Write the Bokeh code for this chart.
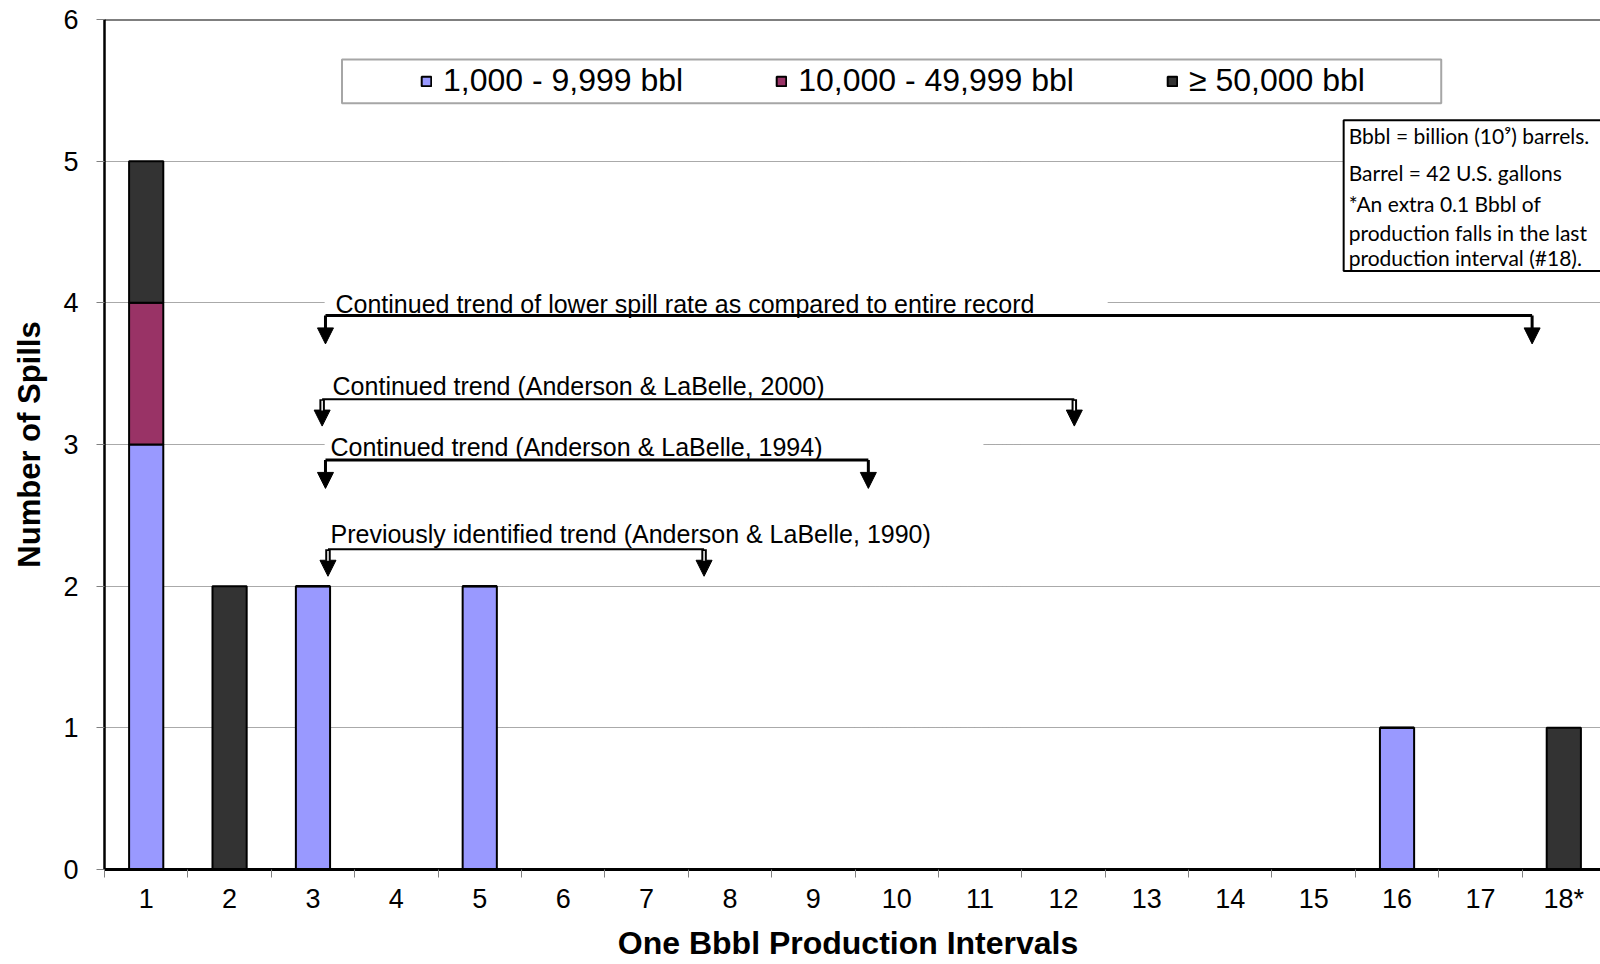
import numpy as np
from bokeh.plotting import figure
from bokeh.models import (ColumnDataSource, FixedTicker, Range1d, Span, Legend,
                          LegendItem, Arrow, NormalHead)
from bokeh.core.properties import value
from bokeh.embed import file_html
from bokeh.resources import INLINE

# ---------------- data ----------------
categories = ["1", "2", "3", "4", "5", "6", "7", "8", "9", "10", "11", "12",
              "13", "14", "15", "16", "17", "18*"]
small_spills = [3, 0, 2, 0, 2, 0, 0, 0, 0, 0, 0, 0, 0, 0, 0, 1, 0, 0]
medium_spills = [1, 0, 0, 0, 0, 0, 0, 0, 0, 0, 0, 0, 0, 0, 0, 0, 0, 0]
large_spills = [1, 2, 0, 0, 0, 0, 0, 0, 0, 0, 0, 0, 0, 0, 0, 0, 0, 1]
series_keys = ["small", "medium", "large"]
series_labels = ["1,000 - 9,999 bbl", "10,000 - 49,999 bbl", "\u2265 50,000 bbl"]
series_colors = ["#9999FF", "#993366", "#333333"]

trend_labels = [
    "Continued trend of lower spill rate as compared to entire record",
    "Continued trend (Anderson & LaBelle, 2000)",
    "Continued trend (Anderson & LaBelle, 1994)",
    "Previously identified trend (Anderson & LaBelle, 1990)",
]
trend_start = [3.15, 3.11, 3.15, 3.18]
trend_end = [17.62, 12.13, 9.66, 7.69]
trend_level = [3.91, 3.32, 2.89, 2.26]
trend_tip = [3.71, 3.13, 2.69, 2.07]
trend_text_x = [3.27, 3.235, 3.21, 3.21]
trend_text_y = [3.99, 3.41, 2.98, 2.37]
trend_box_right = [12.53, 11.0, 11.04, 11.5]
trend_hollow = [False, True, False, True]

note_lines = [
    "Bbbl = billion (10\u2079) barrels.",
    "Barrel = 42 U.S. gallons",
    "*An extra 0.1 Bbbl of",
    "production falls in the last",
    "production interval (#18).",
]
note_y = [5.18, 4.92, 4.70, 4.50, 4.32]

x_title = "One Bbbl  Production Intervals"
y_title = "Number of Spills"

x_pos = [i + 1 for i in range(len(categories))]

FONT = "Liberation Sans"

source = ColumnDataSource(dict(x=x_pos, small=small_spills,
                               medium=medium_spills, large=large_spills))

p = figure(width=1600, height=964,
           x_range=Range1d(0.5, 18.44), y_range=Range1d(0, 6),
           output_backend="svg", toolbar_location=None,
           min_border_left=104, min_border_right=0,
           min_border_top=19, min_border_bottom=95)
p.outline_line_color = None
p.background_fill_color = "white"
p.border_fill_color = "white"

# grid
p.xgrid.visible = False
p.ygrid.grid_line_color = "#555555"
p.ygrid.grid_line_dash = "1 1"
p.ygrid.grid_line_width = 1

# y axis
p.yaxis.ticker = FixedTicker(ticks=[0, 1, 2, 3, 4, 5, 6])
p.yaxis.major_tick_out = 8
p.yaxis.major_tick_in = 0
p.yaxis.minor_tick_line_color = None
p.yaxis.major_tick_line_color = "#808080"
p.yaxis.axis_line_color = "black"
p.yaxis.axis_line_width = 2.5
p.yaxis.major_label_text_font = FONT
p.yaxis.major_label_text_font_size = "27px"
p.yaxis.major_label_text_color = "black"
p.yaxis.major_label_standoff = 18
p.yaxis.axis_label = y_title
p.yaxis.axis_label_text_font = FONT
p.yaxis.axis_label_text_font_size = "31px"
p.yaxis.axis_label_text_font_style = "bold"
p.yaxis.axis_label_text_color = "black"
p.yaxis.axis_label_standoff = 13

# x axis
p.xaxis.ticker = FixedTicker(ticks=x_pos,
                             minor_ticks=[v - 0.5 for v in x_pos] + [x_pos[-1] + 0.5])
p.xaxis.major_label_overrides = {x: c for x, c in zip(x_pos, categories)}
p.xaxis.major_tick_out = 0
p.xaxis.major_tick_in = 0
p.xaxis.major_tick_line_color = None
p.xaxis.minor_tick_out = 8
p.xaxis.minor_tick_in = 0
p.xaxis.minor_tick_line_color = "#808080"
p.xaxis.axis_line_color = "black"
p.xaxis.axis_line_width = 3
p.xaxis.major_label_text_font = FONT
p.xaxis.major_label_text_font_size = "27px"
p.xaxis.major_label_text_color = "black"
p.xaxis.major_label_standoff = 6
p.xaxis.axis_label = x_title
p.xaxis.axis_label_text_font = FONT
p.xaxis.axis_label_text_font_size = "32px"
p.xaxis.axis_label_text_font_style = "bold"
p.xaxis.axis_label_text_color = "black"
p.xaxis.axis_label_standoff = 8

# top frame line
p.add_layout(Span(location=6, dimension="width", line_color="black", line_width=2))

# bars
bars = p.vbar_stack(series_keys, x="x", width=0.41, source=source,
                    fill_color=series_colors, line_color="black", line_width=2)

# legend box
p.quad(left=[3.348], right=[16.53], bottom=[5.409], top=[5.718],
       fill_color="white", line_color="#a6a6a6", line_width=2)

legend = Legend(items=[LegendItem(label=l, renderers=[r])
                       for l, r in zip(series_labels, bars)],
                orientation="horizontal", location=(316, 770),
                glyph_width=12, glyph_height=12, label_standoff=11,
                spacing=92, padding=0, margin=0,
                label_text_font=FONT, label_text_font_size="32px",
                label_text_color="black",
                background_fill_alpha=0, border_line_alpha=0)
p.add_layout(legend)

# note box
p.quad(left=[15.36], right=[19.5], bottom=[4.224], top=[5.289],
       fill_color="white", line_color="black", line_width=2)
p.text(x=[15.42] * len(note_lines), y=note_y, text=note_lines,
       text_font=value("Lato"), text_font_size="21px", text_color="black",
       text_baseline="middle", text_align="left")

# trend text boxes (hide gridlines behind text)
p.quad(left=[s - 0.01 for s in trend_start], right=trend_box_right,
       bottom=[y - 0.1 for y in trend_text_y], top=[y + 0.1 for y in trend_text_y],
       fill_color="white", line_color=None)
p.text(x=trend_text_x, y=trend_text_y, text=trend_labels,
       text_font=value(FONT), text_font_size="25px", text_color="black",
       text_baseline="middle", text_align="left")

# brackets
p.segment(x0=trend_start, x1=trend_end, y0=trend_level, y1=trend_level,
          line_color="black", line_width=[2 if h else 3 for h in trend_hollow])

for xs, xe, lvl, tip, hollow in zip(trend_start, trend_end, trend_level,
                                    trend_tip, trend_hollow):
    for xv in (xs, xe):
        p.add_layout(Arrow(x_start=xv, y_start=lvl, x_end=xv, y_end=tip,
                           line_color="black", line_width=5.5 if hollow else 3,
                           end=NormalHead(size=16, fill_color="black",
                                          line_color="black", line_width=1)))
        if hollow:
            p.add_layout(Arrow(x_start=xv, y_start=lvl - 0.012, x_end=xv,
                               y_end=tip + 0.11, line_color="white",
                               line_width=1.5, end=None))

open("out.html", "w").write(file_html(p, INLINE))
